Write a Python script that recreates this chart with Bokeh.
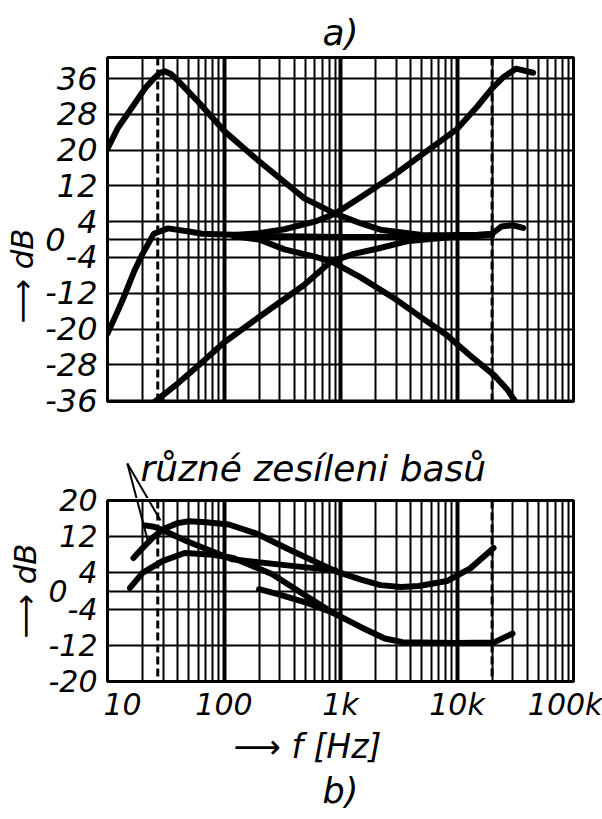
from bokeh.plotting import figure
from bokeh.models import FixedTicker, Span, Label, Title
from bokeh.layouts import column
from bokeh.embed import file_html
from bokeh.resources import INLINE

FONT = "DejaVu Sans"

# ---- axes / ticks ----
decades = [10, 100, 1000, 10000, 100000]
minor_f = [k * d for d in [10, 100, 1000, 10000] for k in range(2, 10)]
x_labels = {10: "\u2002\u200210", 100: "100", 1000: "1k", 10000: "10k", 100000: "100k"}
ya_ticks = [36, 28, 20, 12, 4, 0, -4, -12, -20, -28, -36]
yb_ticks = [20, 12, 4, 0, -4, -12, -20]
dashed_f = [27, 20000]

# ---- chart a) ----
flat_f = [10, 12, 14, 17, 20, 25, 33, 50, 65, 120, 200, 500, 1000, 2000, 5000, 10000, 15000, 20000, 24000, 30000, 37000]
flat_db = [-21, -16.5, -12.5, -7, -3.2, 1.3, 2.5, 1.8, 1.3, 1.1, 0.8, 0.7, 0.6, 0.6, 0.8, 1.0, 1.1, 1.3, 2.9, 3.2, 2.6]

bass_up_f = [10, 12.3, 16, 21, 25, 28, 31, 35, 40, 60, 100, 200, 490, 900, 1500, 2200, 5000, 10000, 20000]
bass_up_db = [20.3, 25, 29.3, 33.8, 36, 37.2, 37.6, 37, 35.6, 30.8, 24.3, 17.5, 9.2, 5.8, 3.6, 2.2, 1.0, 0.8, 1.0]

bass_dn_f = [25, 40, 60, 100, 200, 490, 820, 1300, 2100, 3700, 6200, 10000, 20000]
bass_dn_db = [-36.4, -32.2, -28.2, -23, -17.3, -10.1, -5, -3.2, -2, -0.4, 0.2, 0.6, 1.0]

treb_up_f = [120, 200, 330, 600, 900, 1500, 2950, 5000, 10000, 15000, 20000, 25000, 32000, 45000]
treb_up_db = [1.0, 1.4, 2.3, 4.0, 5.8, 9.5, 14.6, 19, 24.7, 29.8, 33.8, 36.3, 38.2, 37.3]

treb_dn_f = [120, 200, 330, 600, 850, 1500, 2950, 5000, 8200, 12800, 20800, 27000, 32000]
treb_dn_db = [0.8, 0.0, -2.2, -3.8, -5, -8.5, -13.3, -17.5, -21.4, -25.8, -30.3, -33.5, -36.4]

# ---- chart b) ----
b1_f = [16.7, 20, 25, 31, 40, 50, 70, 110, 190, 340, 600, 900, 1500, 2200, 3300, 4700, 8200, 13000, 20600]
b1_db = [7.3, 9.5, 12, 13.8, 15, 15.4, 15.2, 14.7, 12.7, 9.5, 6.5, 4.4, 2.5, 1.3, 0.9, 1.1, 2.2, 5, 9.5]

b2_f = [21, 25, 29, 48, 117, 400, 900]
b2_db = [14.5, 14.2, 13.6, 11, 7, 5.5, 4.6]

b3_f = [15.6, 20, 29.6, 46, 80, 120, 260, 500, 860, 1500, 2400, 3400, 10000, 20600, 30000]
b3_db = [0.7, 4, 6.6, 8.4, 8, 7.3, 3.7, -1, -4.8, -8, -10.5, -11.3, -11.5, -11.4, -9.4]

b4_f = [200, 300, 500, 860]
b4_db = [0.4, -0.8, -2.5, -4.8]

note_text = "různé zesíleni basů"
note_pos = (19.2, 27.1)            # (Hz, dB) of the note's left baseline
pointer_start = (14.8, 28.2)       # (Hz, dB)
pointer_tips = [(22.5, 10.5), (28.5, 15.6)]


def tick_text(t):
    if t == 0:
        return "0\u2003"
    return str(t) if t > 0 else "-" + str(-t)


def style(p, yticks, show_x, ysize):
    p.background_fill_color = "white"
    p.border_fill_color = "white"
    p.outline_line_color = "black"
    p.outline_line_width = 3
    xt = FixedTicker(ticks=decades, minor_ticks=minor_f)
    p.xaxis.ticker = xt
    p.xgrid.ticker = xt
    yt = FixedTicker(ticks=yticks)
    p.yaxis.ticker = yt
    p.ygrid.ticker = yt
    p.xgrid.grid_line_color = "black"
    p.xgrid.grid_line_width = 4
    p.xgrid.minor_grid_line_color = "black"
    p.xgrid.minor_grid_line_width = 2
    p.ygrid.grid_line_color = "black"
    p.ygrid.grid_line_width = 2
    for ax in (p.xaxis, p.yaxis):
        ax.axis_line_color = None
        ax.major_tick_line_color = None
        ax.minor_tick_line_color = None
        ax.major_tick_out = 0
        ax.major_tick_in = 0
        ax.minor_tick_out = 0
        ax.major_label_text_font = FONT
        ax.major_label_text_font_style = "italic"
        ax.major_label_text_font_size = "30px"
        ax.major_label_text_color = "black"
        ax.axis_label_text_font = FONT
        ax.axis_label_text_font_style = "italic"
        ax.axis_label_text_color = "black"
    p.yaxis.major_label_text_font_size = ysize
    p.yaxis.major_label_standoff = 10
    p.yaxis.major_label_overrides = {t: tick_text(t) for t in yticks}
    if show_x:
        p.xaxis.major_label_overrides = x_labels
        p.xaxis.major_label_standoff = 5
    else:
        p.xaxis.visible = False
    for loc in dashed_f:
        p.add_layout(Span(location=loc, dimension="height", line_color="black",
                          line_width=3, line_dash="8 4"))


# ---------- a) ----------
pa = figure(width=602, height=430, x_axis_type="log", x_range=(10, 100000), y_range=(-36.2, 40.7),
            output_backend="svg", toolbar_location=None,
            min_border_left=107, min_border_right=29, min_border_top=57, min_border_bottom=29)
style(pa, ya_ticks, False, "32px")
pa.yaxis.axis_label = "\u27f6 dB\u2003\u2003\u2003"
pa.yaxis.axis_label_text_font_size = "31px"
pa.yaxis.axis_label_standoff = 2
pa.title.text = "a)"
pa.title.align = "center"
pa.title.offset = -19
pa.title.text_font = FONT
pa.title.text_font_style = "italic"
pa.title.text_font_size = "36px"
pa.title.text_color = "black"

for f, d in [(flat_f, flat_db), (bass_up_f, bass_up_db), (bass_dn_f, bass_dn_db),
             (treb_up_f, treb_up_db), (treb_dn_f, treb_dn_db)]:
    pa.line(f, d, line_width=6, line_color="black", line_cap="round", line_join="round")

# ---------- note strip above b) (same x scale, same dB scale) ----------
pm = figure(width=602, height=68, x_axis_type="log", x_range=pa.x_range, y_range=(20.44, 35.47),
            output_backend="svg", toolbar_location=None, x_axis_location=None, y_axis_location=None,
            min_border_left=107, min_border_right=29, min_border_top=0, min_border_bottom=0)
pm.grid.visible = False
pm.outline_line_color = None
pm.background_fill_color = "white"
pm.border_fill_color = "white"
pm.add_layout(Label(x=note_pos[0], y=note_pos[1], text=note_text, text_align="left",
                    text_baseline="alphabetic", text_font=FONT, text_font_style="italic",
                    text_font_size="36px", text_color="black"))

# ---------- b) ----------
OVER = 22
pb = figure(width=602, height=321 + OVER, x_axis_type="log", x_range=pa.x_range, y_range=(-20, 20),
            output_backend="svg", toolbar_location=None,
            min_border_left=107, min_border_right=29, min_border_top=2 + OVER, min_border_bottom=138,
            styles={"margin-top": f"-{OVER}px"})
style(pb, yb_ticks, True, "30px")
pb.border_fill_color = None
pb.yaxis.axis_label = "\u27f6 dB"
pb.yaxis.axis_label_text_font_size = "31px"
pb.yaxis.axis_label_standoff = 2
pb.xaxis.axis_label = "\u27f6 f [Hz]\u2003\u2003"
pb.xaxis.axis_label_text_font_size = "33px"
pb.xaxis.axis_label_standoff = 2

for f, d in [(b1_f, b1_db), (b2_f, b2_db), (b3_f, b3_db), (b4_f, b4_db)]:
    pb.line(f, d, line_width=6, line_color="black", line_cap="round", line_join="round")

for tip in pointer_tips:
    for p in (pm, pb):
        p.line([pointer_start[0], tip[0]], [pointer_start[1], tip[1]],
               line_color="black", line_width=2)

pb.add_layout(Title(text="b)", align="center", offset=-13, standoff=0, text_font=FONT,
                    text_font_style="italic", text_font_size="35px", text_color="black"), "below")

layout = column(pa, pm, pb, spacing=0)
open("out.html", "w").write(file_html(layout, INLINE))
